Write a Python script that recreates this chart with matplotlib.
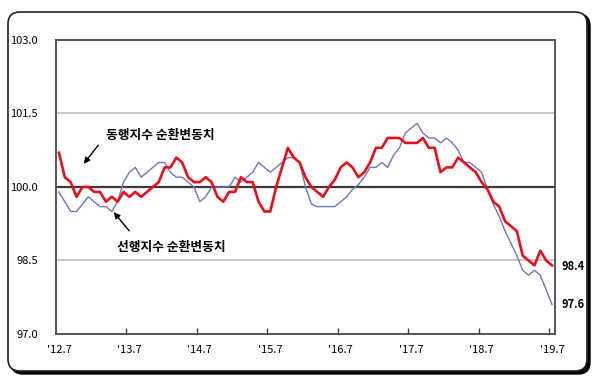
import matplotlib.pyplot as plt
import matplotlib.transforms as mtransforms
from matplotlib.patches import FancyBboxPatch
import numpy as np

plt.rcParams['font.family'] = ['Noto Sans CJK KR', 'DejaVu Sans']

# monthly, 2012.7 - 2019.7
coincident = [100.7, 100.2, 100.1, 99.8, 100.0, 100.0, 99.9, 99.9, 99.7, 99.8,
              99.7, 99.9, 99.8, 99.9, 99.8, 99.9, 100.0, 100.1, 100.4, 100.4,
              100.6, 100.5, 100.2, 100.1, 100.1, 100.2, 100.1, 99.8, 99.7, 99.9,
              99.9, 100.2, 100.1, 100.1, 99.7, 99.5, 99.5, 100.0, 100.4, 100.8,
              100.6, 100.5, 100.2, 100.0, 99.9, 99.8, 100.0, 100.15, 100.4, 100.5,
              100.4, 100.2, 100.3, 100.5, 100.8, 100.8, 101.0, 101.0, 101.0, 100.9,
              100.9, 100.9, 101.0, 100.8, 100.8, 100.3, 100.4, 100.4, 100.6, 100.5,
              100.4, 100.3, 100.1, 99.95, 99.7, 99.6, 99.3, 99.2, 99.1, 98.6,
              98.5, 98.4, 98.7, 98.5, 98.4]
leading = [99.9, 99.7, 99.5, 99.5, 99.65, 99.8, 99.7, 99.6, 99.6, 99.5,
           99.7, 100.1, 100.3, 100.4, 100.2, 100.3, 100.4, 100.5, 100.5, 100.3,
           100.2, 100.2, 100.1, 100.0, 99.7, 99.8, 100.0, 100.0, 100.0, 100.0,
           100.2, 100.1, 100.2, 100.3, 100.5, 100.4, 100.3, 100.4, 100.5, 100.6,
           100.6, 100.5, 100.0, 99.65, 99.6, 99.6, 99.6, 99.6, 99.7, 99.8,
           99.95, 100.05, 100.2, 100.4, 100.4, 100.5, 100.4, 100.65, 100.8, 101.1,
           101.2, 101.3, 101.1, 101.0, 101.0, 100.9, 101.0, 100.9, 100.75, 100.5,
           100.5, 100.4, 100.3, 99.95, 99.65, 99.4, 99.1, 98.85, 98.6, 98.3,
           98.2, 98.3, 98.2, 97.9, 97.6]
x_labels = ["'12.7", "'13.7", "'14.7", "'15.7", "'16.7", "'17.7", "'18.7", "'19.7"]
y_ticks = [97.0, 98.5, 100.0, 101.5, 103.0]

W, H = 600, 386
fig = plt.figure(figsize=(W / 100, H / 100), dpi=100)

# rounded outer frame with shadow
px = mtransforms.IdentityTransform()
shadow = FancyBboxPatch((11, 12), 579, 360, boxstyle="round,pad=0,rounding_size=12",
                        transform=px, facecolor='black', edgecolor='black', lw=1, zorder=-3)
frame = FancyBboxPatch((8, 15), 579, 359, boxstyle="round,pad=0,rounding_size=12",
                       transform=px, facecolor='white', edgecolor='#222222', lw=1.2, zorder=-2)
fig.add_artist(shadow)
fig.add_artist(frame)

ax = fig.add_axes([56 / W, 52 / H, 499 / W, 294 / H])
ax.set_facecolor('white')
idx = np.arange(len(coincident))

ax.axhline(101.5, color='#c8c8c8', lw=1.4, zorder=1)
ax.axhline(98.5, color='#c8c8c8', lw=1.4, zorder=1)
ax.axhline(100.0, color='#3a3a3a', lw=1.6, zorder=2)

ax.plot(idx, leading, color='#7474bc', lw=1.0, zorder=3)
ax.plot(idx, coincident, color='#e4101a', lw=1.9, zorder=4)

ax.set_xlim(-0.5, len(coincident) - 0.5)
ax.set_ylim(97.0, 103.0)
ax.set_yticks(y_ticks)
ax.set_yticklabels([f"{v:.1f}" for v in y_ticks])
ax.set_yticks([100.0], minor=True)
ax.tick_params(axis='y', which='major', length=0, pad=13, labelsize=8)
ax.tick_params(axis='y', which='minor', length=5, width=1.6, color='#3a3a3a', direction='out')

pos = np.arange(0, len(coincident), 12)
ax.set_xticks(pos)
ax.set_xticklabels(x_labels)
ax.set_xticks(pos[1:] - 0.5, minor=True)
ax.tick_params(axis='x', which='major', length=0, pad=8, labelsize=8)
ax.tick_params(axis='x', which='minor', length=4, width=1, color='#3a3a3a', direction='in')

for s in ax.spines.values():
    s.set_color('#4a4a4a')
    s.set_linewidth(1.3)

# annotations
ax.annotate('', xy=(82, H - 166), xycoords='figure pixels',
            xytext=(100, H - 143), textcoords='figure pixels',
            arrowprops=dict(arrowstyle='-|>', color='black', lw=1, mutation_scale=9))
ax.annotate('', xy=(112, H - 210), xycoords='figure pixels',
            xytext=(131, H - 233), textcoords='figure pixels',
            arrowprops=dict(arrowstyle='-|>', color='black', lw=1, mutation_scale=9))
fig.text(160 / W, (H - 135) / H, '동행지수 순환변동치', ha='center', va='center',
         fontsize=9.2, fontweight='bold')
fig.text(171 / W, (H - 248) / H, '선행지수 순환변동치', ha='center', va='center',
         fontsize=9.2, fontweight='bold')

fig.text(561 / W, (H - 266) / H, f"{coincident[-1]:.1f}", ha='left', va='center',
         fontsize=8, fontweight='bold')
fig.text(561 / W, (H - 305) / H, f"{leading[-1]:.1f}", ha='left', va='center',
         fontsize=8, fontweight='bold')

fig.savefig('out.png', dpi=100)
